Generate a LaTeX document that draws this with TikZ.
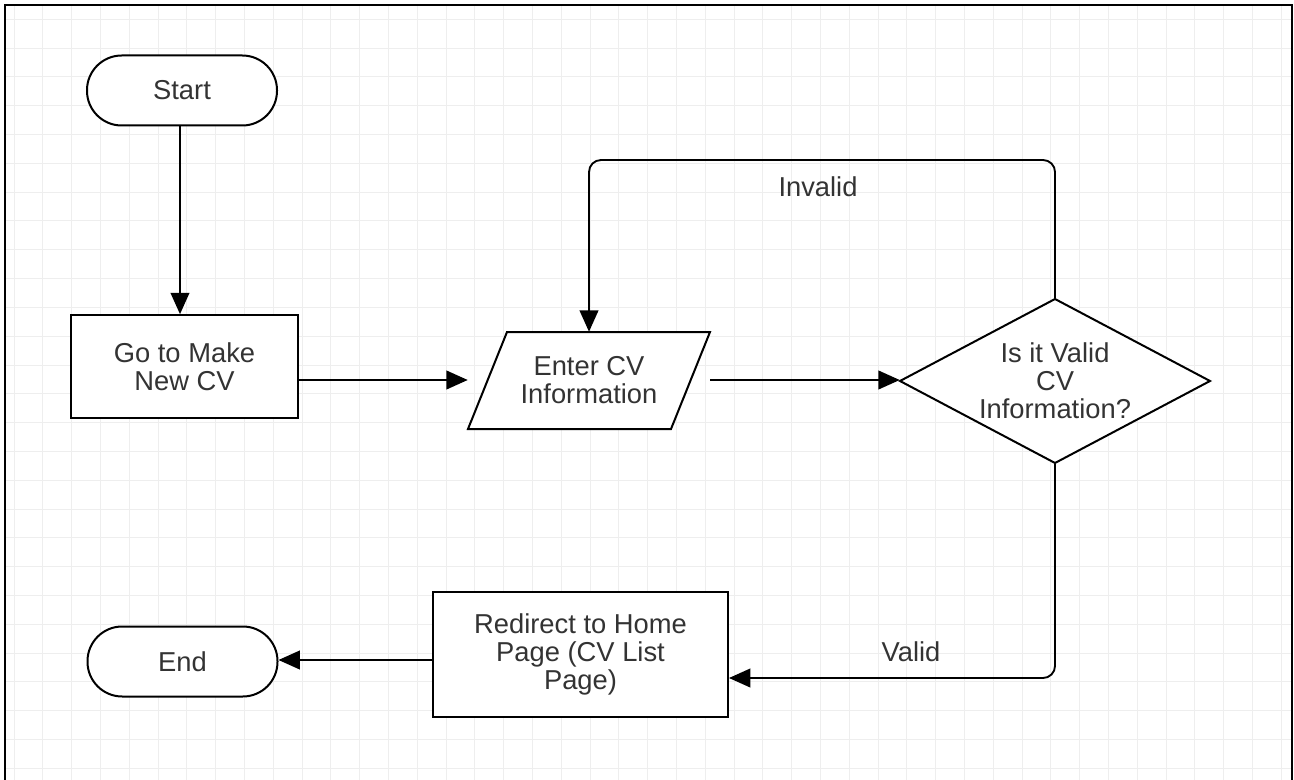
\documentclass[tikz,border=0pt]{standalone}
\usepackage{fontspec}
\setmainfont{Liberation Sans}
\usetikzlibrary{arrows.meta}
\definecolor{gridgray}{HTML}{EEEEEE}
\definecolor{textgray}{HTML}{333333}

\begin{document}
\begin{tikzpicture}[x=0.75pt,y=0.75pt,yscale=-1,xscale=1,
  every node/.style={font=\fontsize{20.5}{21}\selectfont, text=textgray, align=center},
  terminal/.style={draw=black, fill=white, line width=1.5pt, rounded corners=26pt, minimum width=142.5pt, minimum height=52.5pt},
  process/.style={draw=black, fill=white, line width=1.5pt},
  inout/.style={draw=black, fill=white, line width=1.5pt, line join=miter},
  decision/.style={draw=black, fill=white, line width=1.5pt},
  flow/.style={line width=1.4pt, -{Triangle[length=16pt,width=14pt]}},
  flowtext/.style={inner sep=0.75pt},
  gridline/.style={draw=gridgray, line width=0.75pt}]
\useasboundingbox (0,0) rectangle (1294,780);
% Grid
\foreach \i in {0,...,44} \draw[gridline] (14+28.8*\i,5) -- (14+28.8*\i,780);
\foreach \j in {0,...,26} \draw[gridline] (5,19.4+28.8*\j) -- (1292,19.4+28.8*\j);
\draw[line width=1.5pt] (5,780) -- (5,5) -- (1292,5) -- (1292,780);

% Shapes
\draw[inout] (507,332) -- (710,332) -- (671,429) -- (468,429) -- cycle;
\draw[decision] (900,381) -- (1055,299) -- (1210,381) -- (1055,463) -- cycle;
\draw (182,90.5) node [terminal] (start) {Start};
\draw (184.5,366.5) node [process, minimum width=170pt, minimum height=77pt] (go) {Go to Make\\New CV};
\draw (589,380.5) node [minimum width=181.5pt, minimum height=72.75pt] (enter) {Enter CV\\Information};
\draw (1055,381) node [minimum width=232.5pt, minimum height=123pt] (valid) {Is it Valid\\CV\\Information?};
\draw (580.5,654.5) node [process, minimum width=221.25pt, minimum height=93.75pt] (home) {Redirect to Home\\Page (CV List\\Page)};
\draw (182.5,661.5) node [terminal] (end) {End};

\coordinate (looptop) at (0,160);
\coordinate (validrow) at (0,678);
\coordinate (flowrow) at (0,380);
\coordinate (endrow) at (0,660);

% Connectors
\draw[flow] (start.south -| 180,0) -- (go.north -| 180,0);
\draw[flow] (go.east |- flowrow) -- (enter.west |- flowrow);
\draw[flow] (enter.east |- flowrow) -- (valid.west |- flowrow);
\draw[flow, rounded corners=9pt] (valid.north) |- (looptop -| enter.center) -- (enter.north);
\draw[flow, rounded corners=9pt] (valid.south) |- (home.east |- validrow);
\draw[flow] (home.west |- endrow) -- (end.east |- endrow);

% Text Node
\draw (818,187) node [flowtext] (invalidtext) {Invalid};
% Text Node
\draw (911,652) node [flowtext] (validtext) {Valid};
\end{tikzpicture}
\end{document}
